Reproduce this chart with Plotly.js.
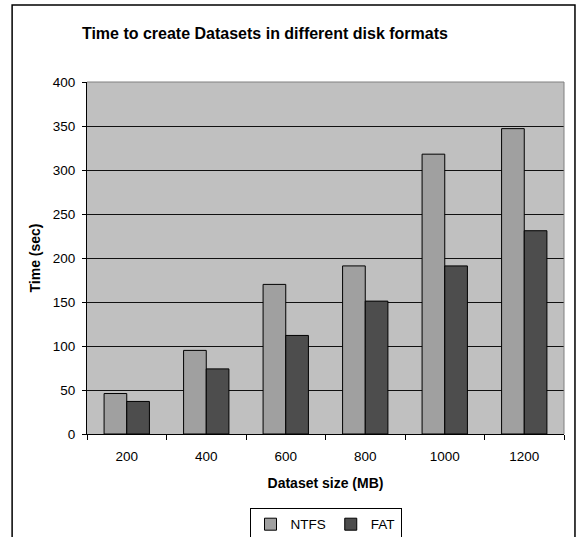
<!DOCTYPE html>
<html>
<head>
<meta charset="utf-8">
<script src="https://cdn.plot.ly/plotly-3.0.1.min.js"></script>
<style>
  html, body { margin: 0; padding: 0; background: #fff; }
  #chart { width: 578px; height: 537px; }
</style>
</head>
<body>
<div id="chart"></div>
<script>
// Dataset sizes (MB) and creation times (sec) per disk format
const sizes = ['200', '400', '600', '800', '1000', '1200'];
const ntfsTimes = [46, 95, 170, 191, 318, 347];
const fatTimes = [37, 74, 112, 151, 191, 231];
const seriesNames = ['NTFS', 'FAT'];
const yTicks = [0, 50, 100, 150, 200, 250, 300, 350, 400];

const FONT = 'Liberation Sans, Arial, sans-serif';

const traces = [
  {
    type: 'bar', name: seriesNames[0], x: sizes, y: ntfsTimes,
    marker: { color: '#a0a0a0', line: { color: '#000', width: 1 } },
    hoverinfo: 'x+y+name'
  },
  {
    type: 'bar', name: seriesNames[1], x: sizes, y: fatTimes,
    marker: { color: '#4d4d4d', line: { color: '#000', width: 1 } },
    hoverinfo: 'x+y+name'
  }
];

const layout = {
  width: 578, height: 537,
  margin: { l: 87, r: 14, t: 82, b: 103, autoexpand: false },
  paper_bgcolor: '#ffffff',
  plot_bgcolor: '#c0c0c0',
  font: { family: FONT, color: '#000', size: 13 },
  barmode: 'group',
  bargap: 0.43,
  bargroupgap: 0,
  title: {
    text: '<b>Time to create Datasets in different disk formats</b>',
    font: { family: FONT, size: 16, color: '#000' },
    xref: 'paper', x: 0.373, xanchor: 'center',
    yref: 'container', y: 0.937, yanchor: 'middle'
  },
  xaxis: {
    type: 'category',
    automargin: false,
    showgrid: false,
    showline: true, linecolor: '#000', linewidth: 1,
    ticks: 'outside', tickson: 'boundaries', ticklen: 5, tickcolor: '#000',
    ticklabelstandoff: 10,
    tickfont: { family: FONT, size: 13.5, color: '#000' },
    title: {
      text: '<b>Dataset size (MB)</b>',
      font: { family: FONT, size: 14, color: '#000' },
      standoff: 14
    }
  },
  yaxis: {
    range: [0, 400],
    automargin: false,
    tickvals: yTicks,
    showgrid: true, gridcolor: '#111', gridwidth: 1,
    zeroline: false,
    showline: true, linecolor: '#000', linewidth: 1,
    ticks: 'outside', ticklen: 4, tickcolor: '#000',
    ticklabelstandoff: 4,
    tickfont: { family: FONT, size: 13.5, color: '#000' },
    title: {
      text: '<b>Time (sec)</b>',
      font: { family: FONT, size: 14, color: '#000' },
      standoff: 8
    }
  },
  showlegend: true,
  legend: {
    orientation: 'h',
    x: 0.5, xanchor: 'center',
    y: -0.21, yanchor: 'top',
    bgcolor: '#fff', bordercolor: '#000', borderwidth: 1,
    font: { family: FONT, size: 13.5, color: '#000' },
    itemwidth: 30,
    tracegroupgap: 0,
    traceorder: 'normal'
  },
  shapes: [
    // grey frame on the top and right edges of the plotting area
    { type: 'line', xref: 'paper', yref: 'paper', x0: 0, x1: 1, y0: 1, y1: 1,
      line: { color: '#808080', width: 1 }, layer: 'above' },
    { type: 'line', xref: 'paper', yref: 'paper', x0: 1, x1: 1, y0: 0, y1: 1,
      line: { color: '#808080', width: 1 }, layer: 'above' },
    // outer chart border
    { type: 'rect', xref: 'paper', yref: 'paper',
      x0: -0.157, x1: 1.023, y0: -0.4, y1: 1.2188,
      line: { color: '#000', width: 1.5 }, layer: 'below' }
  ]
};

Plotly.newPlot('chart', traces, layout, { displayModeBar: false, staticPlot: true });
</script>
</body>
</html>
